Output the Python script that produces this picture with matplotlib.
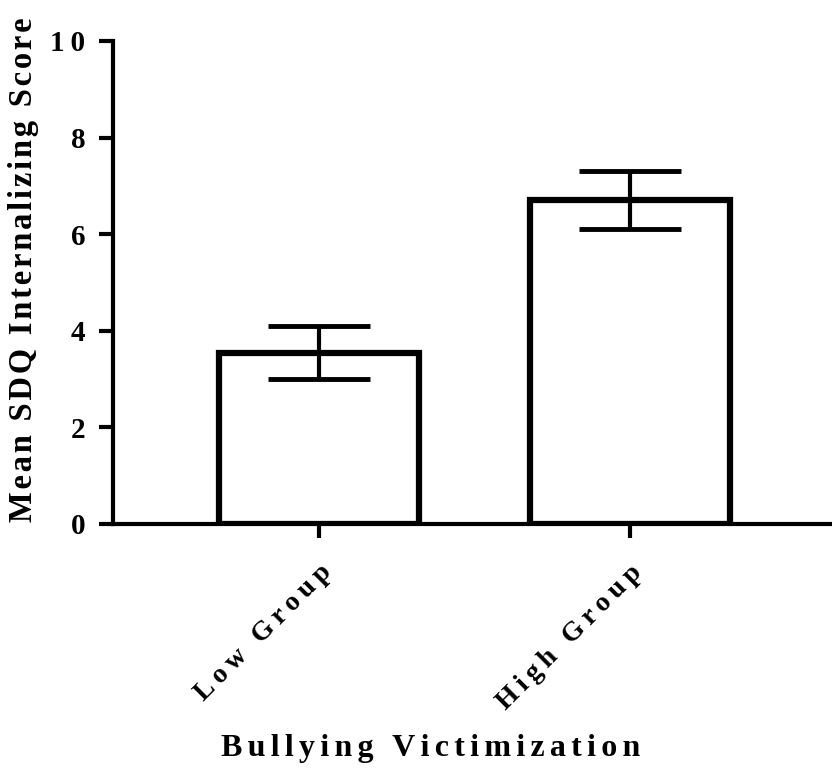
import numpy as np
import matplotlib.pyplot as plt

# bar chart values
groups = ["Low Group", "High Group"]
means = [3.55, 6.7]
sem = [0.55, 0.6]
y_ticks = [0, 2, 4, 6, 8, 10]

# loose letter spacing of the original, done with narrow unicode spaces
THIN = "\u2009"
HAIR = "\u200a"


def spaced(s, sep):
    return sep.join(s)


plt.rcParams['font.family'] = ['Liberation Serif', 'DejaVu Serif']
plt.rcParams['font.weight'] = 'bold'

fig = plt.figure(figsize=(8.32, 7.72), dpi=100)
ax = fig.add_axes([113 / 832, 1 - 524 / 772, 719 / 832, 483 / 772])

x = np.arange(len(means))
ax.bar(x, means, width=0.645, color='white', edgecolor='black', linewidth=4.5, zorder=2)
ax.errorbar(x, means, yerr=sem, fmt='none', ecolor='black', elinewidth=3,
            capsize=37, capthick=3.5, zorder=3)

ax.set_xlim(-0.662, 1.65)
ax.set_ylim(0, 10)
ax.set_yticks(y_ticks)
ax.set_yticklabels([spaced(str(t), THIN) for t in y_ticks])
ax.set_xticks(x)
ax.set_xticklabels([spaced(g, THIN) for g in groups], rotation=45, ha='right', va='top',
                   rotation_mode='anchor', fontsize=20)

for s in ['top', 'right']:
    ax.spines[s].set_visible(False)
for s in ['left', 'bottom']:
    ax.spines[s].set_linewidth(3)

ax.tick_params(axis='both', width=3, length=10)
ax.tick_params(axis='y', labelsize=21, pad=10)
ax.tick_params(axis='x', pad=16)

ax.set_ylabel(spaced("Mean SDQ Internalizing Score", HAIR), fontsize=23.5, fontweight='bold')
ax.yaxis.label.set_va('center')
ax.yaxis.set_label_coords(-0.124, 0.526)

ax.set_xlabel(spaced("Bullying Victimization", HAIR * 2), fontsize=23, fontweight='bold')
ax.xaxis.label.set_va('center')
ax.xaxis.set_label_coords(0.442, -0.464)

fig.savefig("out.png", dpi=100)
